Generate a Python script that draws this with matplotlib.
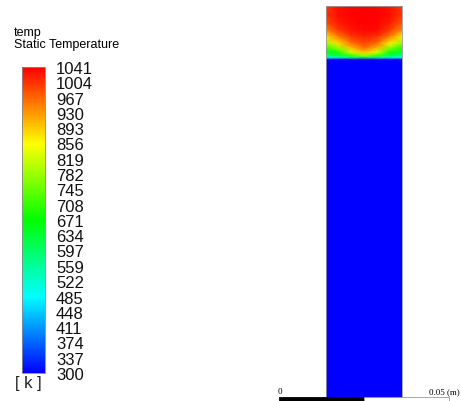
import numpy as np
import matplotlib
matplotlib.use("Agg")
import matplotlib.pyplot as plt
from matplotlib.colors import LinearSegmentedColormap
from matplotlib.cm import ScalarMappable
from matplotlib.colors import Normalize
from matplotlib.patches import Rectangle

plt.rcParams['font.family'] = ['Liberation Sans', 'DejaVu Sans']

# legend levels of the static temperature [K]
levels = [300, 337, 374, 411, 448, 485, 522, 559, 597, 634, 671,
          708, 745, 782, 819, 856, 893, 930, 967, 1004, 1041]
t_min, t_max = 300, 1041

# domain size [mm]
width_mm = 22.4
height_mm = 116.2

# sample nodes across the width [mm] and depth below the top wall [mm]
x_mm = [0.0, 3.5, 7.4, 11.2, 15.0, 18.8, 22.4]
depth_mm = [0.0, 2.6, 5.0, 7.2, 9.0, 10.9, 12.4, 13.6, 14.5, 15.2, 15.8, 116.2]

# temperature at the nodes [K], one row per depth
temp = [
    [1000, 1025, 1038, 1041, 1038, 1025, 1000],
    [1005, 1030, 1041, 1041, 1041, 1030, 1000],
    [985, 1020, 1035, 1041, 1038, 1020, 980],
    [940, 995, 1025, 1035, 1030, 995, 935],
    [880, 950, 1000, 1015, 1005, 950, 870],
    [790, 880, 960, 990, 965, 870, 780],
    [700, 780, 900, 960, 910, 770, 690],
    [650, 690, 820, 900, 830, 680, 640],
    [600, 620, 720, 800, 720, 610, 590],
    [520, 530, 580, 620, 570, 520, 510],
    [300, 300, 300, 300, 300, 300, 300],
    [300, 300, 300, 300, 300, 300, 300],
]

# ANSYS-like rainbow
cmap = LinearSegmentedColormap.from_list(
    "fluent", [(0, 0, 1), (0, 1, 1), (0, 1, 0), (1, 1, 0), (1, 0, 0)])
norm = Normalize(vmin=t_min, vmax=t_max)

W, H = 461, 402
fig = plt.figure(figsize=(W / 100, H / 100), dpi=100)


def px_axes(x0, y0, x1, y1):
    # axes from pixel box (top-left origin)
    return fig.add_axes([x0 / W, (H - y1) / H, (x1 - x0) / W, (y1 - y0) / H])


# contour of the domain
ax = px_axes(326, 7, 402, 402)
X, D = np.meshgrid(np.array(x_mm), np.array(depth_mm))
Y = height_mm - D
ax.pcolormesh(X, Y, np.array(temp, dtype=float), cmap=cmap, norm=norm,
              shading='gouraud')
ax.set_xlim(0, width_mm)
ax.set_ylim(0, height_mm)
ax.set_xticks([])
ax.set_yticks([])
for s in ax.spines.values():
    s.set_color('#999999')
    s.set_linewidth(0.6)

# legend
cax = px_axes(22, 68, 45, 374)
cb = fig.colorbar(ScalarMappable(norm=norm, cmap=cmap), cax=cax)
cb.set_ticks(levels)
cb.set_ticklabels([str(v) for v in levels])
cb.ax.tick_params(length=0, pad=8, labelsize=12, colors='#111111')
cb.outline.set_edgecolor('#888888')
cb.outline.set_linewidth(0.6)

fig.text(14 / W, 1 - 33 / H, "temp", fontsize=9, va='center', ha='left')
fig.text(14 / W, 1 - 45 / H, "Static Temperature", fontsize=9,
         va='center', ha='left')
fig.text(15 / W, 1 - 384 / H, "[ k ]", fontsize=12, va='center', ha='left',
         color='#222222')

# scale bar, 0.05 m
sax = px_axes(279, 398, 449, 406)
sax.set_xlim(0, 0.05)
sax.set_ylim(0, 1)
sax.axis('off')
sax.add_patch(Rectangle((0, 0), 0.025, 1, facecolor='black', edgecolor='black',
                        lw=0.6, clip_on=False))
sax.add_patch(Rectangle((0.025, 0), 0.025, 1, facecolor='white',
                        edgecolor='#999999', lw=0.6, clip_on=False))
fig.text(278 / W, 1 - 392 / H, "0", fontsize=6.5, family='Liberation Serif',
         va='center', ha='left')
fig.text(460 / W, 1 - 392 / H, "0.05 (m)", fontsize=6.5,
         family='Liberation Serif', va='center', ha='right')

fig.savefig("out.png", dpi=100)
